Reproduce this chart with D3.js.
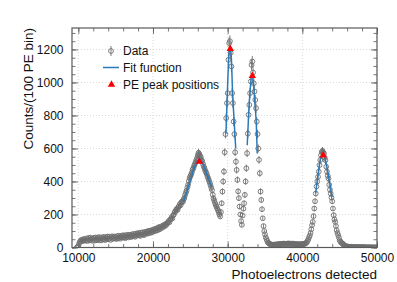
<!DOCTYPE html>
<html>
<head>
<meta charset="utf-8">
<script src="https://cdn.jsdelivr.net/npm/d3@7"></script>
<style>
  body { margin: 0; background: #fff; }
  text { font-family: "Liberation Sans", Arial, Helvetica, sans-serif; fill: #111; }
</style>
</head>
<body>
<script>
// histogram: 100 PE bins starting at 9800
const binLow = 9800;
const binWidth = 100;
const counts = [
  0, 3,
  10, 24, 34, 40, 46, 38, 49, 41, 52, 42,
  44, 55, 39, 50, 58, 43, 60, 45, 54, 40,
  52, 59, 42, 61, 48, 44, 60, 49, 63, 43,
  57, 44, 62, 49, 64, 51, 45, 63, 52, 66,
  50, 66, 54, 46, 63, 68, 52, 58, 67, 55,
  64, 51, 69, 56, 71, 59, 53, 70, 60, 73,
  60, 74, 62, 56, 75, 64, 77, 61, 76, 65,
  76, 64, 80, 68, 82, 71, 65, 84, 72, 86,
  74, 88, 76, 70, 90, 78, 92, 80, 75, 94,
  83, 96, 84, 99, 86, 101, 89, 103, 91, 106,
  96, 109, 98, 113, 102, 116, 104, 120, 124, 110,
  118, 127, 119, 133, 125, 137, 130, 143, 137, 149,
  150, 161, 153, 169, 172, 185, 176, 195, 200, 214,
  218, 229, 234, 228, 246, 250, 264, 256, 274, 280,
  276, 292, 300, 318, 332, 345, 364, 380, 402, 420,
  432, 442, 455, 472, 480, 494, 505, 517, 530, 542,
  560, 574, 566, 555, 548, 530, 522, 505, 490, 478,
  465, 455, 445, 430, 418, 405, 392, 378, 362, 348,
  320, 298, 285, 270, 258, 248, 236, 226, 214, 200,
  188, 215, 268, 339, 400, 460, 577, 687, 784, 875,
  935, 1137, 1238, 1250, 1180, 1097, 935, 875, 763, 687,
  577, 520, 470, 410, 340, 299, 248, 200, 160, 137,
  194, 235, 268, 319, 400, 480, 571, 690, 804, 864,
  935, 1006, 1106, 1127, 1060, 995, 945, 894, 844, 763,
  687, 600, 531, 450, 339, 288, 232, 177, 130, 100,
  80, 62, 50, 40, 30, 26, 22, 20, 18, 18,
  16, 17, 15, 18, 16, 19, 17, 20, 18, 21,
  19, 22, 20, 23, 21, 24, 22, 20, 23, 21,
  24, 22, 25, 21, 23, 20, 22, 24, 21, 19,
  22, 20, 18, 21, 19, 17, 20, 18, 21, 19,
  20, 19, 21, 22, 24, 27, 32, 40, 50, 62,
  72, 88, 110, 135, 155, 190, 236, 280, 327, 370,
  400, 428, 460, 499, 530, 559, 579, 585, 575, 570,
  545, 529, 489, 460, 435, 418, 380, 350, 327, 303,
  280, 236, 196, 170, 155, 130, 105, 88, 75, 60,
  44, 36, 30, 26, 24, 18, 14, 10, 8, 7,
  6, 5, 5, 4, 4, 3, 4, 3, 3, 2,
  3, 2, 2, 3, 2, 2, 1, 2, 2, 1,
  2, 1, 1, 2, 1, 1, 1, 1, 0, 1,
  1, 0, 1, 1, 0, 0, 1, 0, 0, 1
];

// fit curves: [PE, counts]
const fitPeak1 = [[24100, 280], [24600, 345], [25100, 420], [25600, 490], [26000, 528], [26250, 537], [26500, 525], [27000, 470], [27500, 410], [27850, 370]];
const fitPeak2 = [[29770, 690], [29950, 930], [30150, 1150], [30330, 1210], [30480, 1160], [30650, 950], [30900, 740], [31080, 600]];
const fitPeak3 = [[32620, 620], [32800, 800], [33000, 950], [33270, 1050], [33450, 990], [33650, 870], [33850, 730], [33960, 570]];
const fitPeak4 = [[41780, 330], [42100, 440], [42400, 530], [42800, 566], [43200, 510], [43600, 410], [44000, 305]];
const fits = [fitPeak1, fitPeak2, fitPeak3, fitPeak4];

const peakPositions = [[26200, 520], [30350, 1204], [33300, 1040], [42800, 559]];

const xTicks = [10000, 20000, 30000, 40000, 50000];
const xMinorTicks = d3.range(10000, 50001, 2000);
const yTicks = [0, 200, 400, 600, 800, 1000, 1200];
const yMinorTicks = d3.range(0, 1301, 50);

const W = 397, H = 282;
const pLeft = 72, pRight = 377, pTop = 28, pBottom = 247.5;

const svg = d3.select('body').append('svg')
    .attr('width', W)
    .attr('height', H);

const x = d3.scaleLinear().domain([9150, 50000]).range([pLeft, pRight]);
const y = d3.scaleLinear().domain([0, 1330]).range([pBottom, pTop]);

svg.append('clipPath').attr('id', 'plot')
  .append('rect')
    .attr('x', pLeft).attr('y', pTop)
    .attr('width', pRight - pLeft).attr('height', pBottom - pTop);

// grid
const grid = svg.append('g')
    .attr('stroke', '#cfcfcf')
    .attr('stroke-width', 0.8)
    .attr('stroke-dasharray', '1,2');
grid.selectAll('.gx').data(xTicks).join('line')
    .attr('x1', d => x(d)).attr('x2', d => x(d))
    .attr('y1', pTop).attr('y2', pBottom);
grid.selectAll('.gy').data(yTicks.slice(1)).join('line')
    .attr('x1', pLeft).attr('x2', pRight)
    .attr('y1', d => y(d)).attr('y2', d => y(d));

// axes, ticks inward on all four sides
function styleAxis(g) {
  g.select('.domain').remove();
  g.selectAll('.tick line').attr('stroke', '#555').attr('stroke-width', 0.8);
  g.selectAll('.tick text').style('font-size', '12px').attr('fill', '#111');
}

svg.append('g').attr('transform', `translate(0,${pBottom})`)
    .call(d3.axisBottom(x).tickValues(xMinorTicks).tickSize(-3.5).tickFormat(''))
    .call(styleAxis);
svg.append('g').attr('transform', `translate(0,${pBottom})`)
    .call(d3.axisBottom(x).tickValues(xTicks).tickSize(-6).tickPadding(6).tickFormat(d3.format('d')))
    .call(styleAxis);
svg.append('g').attr('transform', `translate(0,${pTop})`)
    .call(d3.axisTop(x).tickValues(xMinorTicks).tickSize(-3.5).tickFormat(''))
    .call(styleAxis);
svg.append('g').attr('transform', `translate(0,${pTop})`)
    .call(d3.axisTop(x).tickValues(xTicks).tickSize(-6).tickFormat(''))
    .call(styleAxis);
svg.append('g').attr('transform', `translate(${pLeft},0)`)
    .call(d3.axisLeft(y).tickValues(yMinorTicks).tickSize(-3.5).tickFormat(''))
    .call(styleAxis);
svg.append('g').attr('transform', `translate(${pLeft},0)`)
    .call(d3.axisLeft(y).tickValues(yTicks).tickSize(-6).tickPadding(8.5).tickFormat(d3.format('d')))
    .call(styleAxis);
svg.append('g').attr('transform', `translate(${pRight},0)`)
    .call(d3.axisRight(y).tickValues(yMinorTicks).tickSize(-3.5).tickFormat(''))
    .call(styleAxis);
svg.append('g').attr('transform', `translate(${pRight},0)`)
    .call(d3.axisRight(y).tickValues(yTicks).tickSize(-6).tickFormat(''))
    .call(styleAxis);

// data points with sqrt(N) error bars
const bins = counts.map((c, i) => ({ pe: binLow + i * binWidth, c: c }));
const plot = svg.append('g').attr('clip-path', 'url(#plot)');
const dataColor = '#6e6e6e';

plot.append('g').attr('stroke', dataColor).attr('stroke-width', 0.9)
  .selectAll('line').data(bins.filter(d => d.c > 0)).join('line')
    .attr('x1', d => x(d.pe)).attr('x2', d => x(d.pe))
    .attr('y1', d => y(d.c - Math.sqrt(d.c)))
    .attr('y2', d => y(d.c + Math.sqrt(d.c)));

plot.append('g')
  .selectAll('circle').data(bins).join('circle')
    .attr('cx', d => x(d.pe))
    .attr('cy', d => y(d.c))
    .attr('r', 2.4)
    .attr('fill', 'none')
    .attr('stroke', dataColor)
    .attr('stroke-width', 0.9);

// fit function
const line = d3.line().x(d => x(d[0])).y(d => y(d[1])).curve(d3.curveMonotoneX);
plot.append('g').selectAll('path').data(fits).join('path')
    .attr('d', line)
    .attr('fill', 'none')
    .attr('stroke', '#2a7ab9')
    .attr('stroke-width', 1.5);

// PE peak positions
const tri = d3.symbol(d3.symbolTriangle).size(24);
plot.append('g').selectAll('path').data(peakPositions).join('path')
    .attr('d', tri)
    .attr('transform', d => `translate(${x(d[0])},${y(d[1])})`)
    .attr('fill', '#ff0000');

// frame
svg.append('rect')
    .attr('x', pLeft).attr('y', pTop)
    .attr('width', pRight - pLeft).attr('height', pBottom - pTop)
    .attr('fill', 'none')
    .attr('stroke', '#5a5a5a')
    .attr('stroke-width', 1.2);

// legend
const legend = svg.append('g');
legend.append('line')
    .attr('x1', 111).attr('x2', 111).attr('y1', 46).attr('y2', 56)
    .attr('stroke', dataColor).attr('stroke-width', 0.9);
legend.append('circle')
    .attr('cx', 111).attr('cy', 51).attr('r', 2.4)
    .attr('fill', 'none').attr('stroke', dataColor).attr('stroke-width', 0.9);
legend.append('text').attr('x', 123).attr('y', 54.5).style('font-size', '12px').text('Data');

legend.append('line')
    .attr('x1', 103).attr('x2', 119).attr('y1', 67.5).attr('y2', 67.5)
    .attr('stroke', '#2a7ab9').attr('stroke-width', 1.5);
legend.append('text').attr('x', 123).attr('y', 71.5).style('font-size', '12px').text('Fit function');

legend.append('path')
    .attr('d', tri)
    .attr('transform', 'translate(111.5,84.5)')
    .attr('fill', '#ff0000');
legend.append('text').attr('x', 123).attr('y', 88.5).style('font-size', '12px').text('PE peak positions');

// axis titles
svg.append('text')
    .attr('x', pRight).attr('y', 279)
    .attr('text-anchor', 'end')
    .style('font-size', '13.5px')
    .text('Photoelectrons detected');

svg.append('text')
    .attr('transform', `translate(33,${pTop}) rotate(-90)`)
    .attr('text-anchor', 'end')
    .style('font-size', '13.5px')
    .text('Counts/(100 PE bin)');
</script>
</body>
</html>
